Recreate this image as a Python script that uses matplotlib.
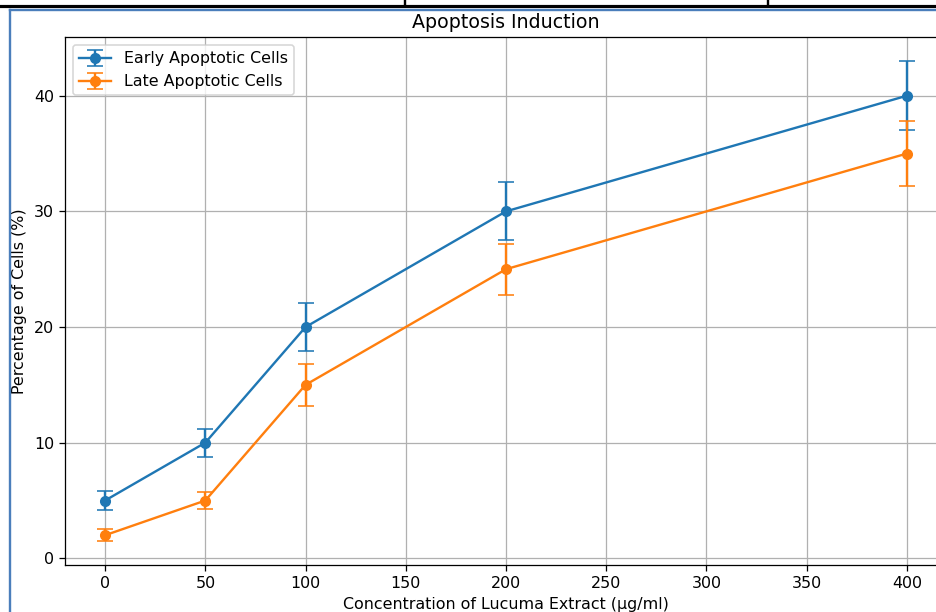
import matplotlib
matplotlib.use("Agg")
import matplotlib.pyplot as plt
from matplotlib.lines import Line2D

# Data
concentration = [0, 50, 100, 200, 400]  # µg/ml
early = [5, 10, 20, 30, 40]
early_err = [0.8, 1.2, 2.1, 2.5, 3.0]
late = [2, 5, 15, 25, 35]
late_err = [0.5, 0.7, 1.8, 2.2, 2.8]

# the reference screenshot is scaled up ~1.14x, so render at a higher dpi
dpi = 114
fig = plt.figure(figsize=(936 / dpi, 612 / dpi), dpi=dpi)
# the screenshot is cropped: the axes run past the right edge
ax = fig.add_axes([65 / 936, 1 - 565 / 612, 882 / 936, 528 / 612])

ax.errorbar(concentration, early, yerr=early_err, fmt='-o', capsize=5, label='Early Apoptotic Cells')
ax.errorbar(concentration, late, yerr=late_err, fmt='-o', capsize=5, label='Late Apoptotic Cells')

ax.set_title('Apoptosis Induction')
ax.set_xlabel('Concentration of Lucuma Extract (µg/ml)')
ax.set_ylabel('Percentage of Cells (%)')
ax.legend(loc='upper left')
ax.grid(True)

# screenshot frame bits around the chart
fig.add_artist(Line2D([0, 1], [1 - 6 / 612] * 2, color='black', lw=2))
for xp in (405, 768):
    fig.add_artist(Line2D([xp / 936] * 2, [1, 1 - 6 / 612], color='black', lw=1.5))
fig.add_artist(Line2D([10 / 936] * 2, [0, 1 - 10 / 612], color='#4a7ebb', lw=1.5))
fig.add_artist(Line2D([10 / 936, 1], [1 - 10 / 612] * 2, color='#4a7ebb', lw=1.5))

fig.savefig('out.png', dpi=dpi)
